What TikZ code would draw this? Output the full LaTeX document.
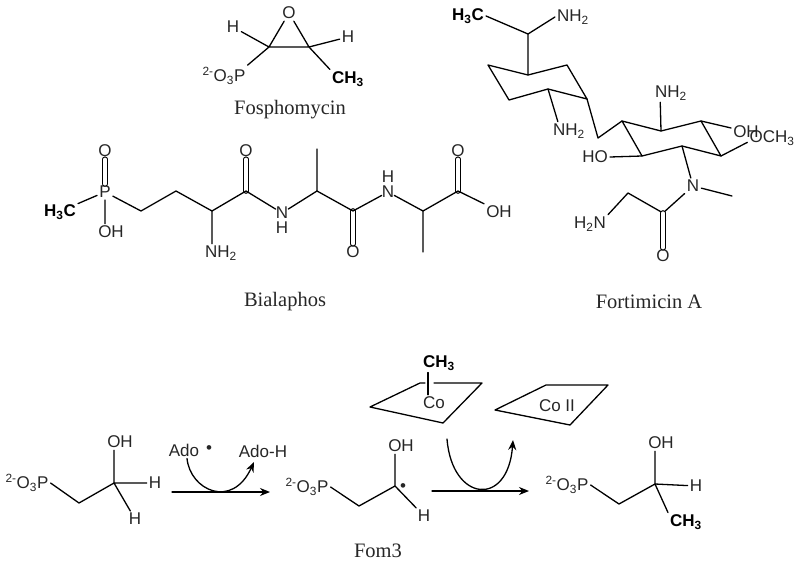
\documentclass[tikz,border=0pt]{standalone}
\usepackage{fontspec}
\setmainfont{Liberation Serif}
\setsansfont{Liberation Sans}
\usetikzlibrary{arrows.meta}
\tikzset{
	atom/.style={font=\sffamily\fontsize{17}{17}\selectfont, inner sep=2pt, text=black!85},
	boldatom/.style={font=\sffamily\bfseries\fontsize{17}{17}\selectfont, inner sep=2pt},
	title/.style={font=\fontsize{20.5}{20.5}\selectfont, inner sep=0pt, text=black!85},
	bond/.style={line width=1.3pt},
	dblbond/.style={line width=1.2pt, double distance=3.2pt},
	rxn/.style={line width=1.3pt, -{Stealth[length=10pt,width=8pt]}}
}
\newcommand{\phosgroup}{\textsuperscript{2-}O\textsubscript{3}P}
\begin{document}
\begin{tikzpicture}[x=1pt, y=-1pt, line join=round, line cap=round, >=stealth]
	\useasboundingbox (0,0) rectangle (800,564);
	% Fosphomycin
	\path
	(269,47) coordinate (fa)
	(309,47) coordinate (fb)
	;
	\node[atom] (fO) at (289,13) {O};
	\node[atom] (fH) at (233,27) {H};
	\node[atom] (fHb) at (348,37) {H};
	\node[atom] (fP) at (224,76) {\phosgroup};
	\node[boldatom] (fMe) at (348,79) {CH\textsubscript{3}};
	\node[title] (fName) at (290,110) {Fosphomycin};
	\draw[bond] (fa)--(fb) (fa)--(fO) (fb)--(fO) (fa)--(fH) (fb)--(fHb);
	\draw[bond] (fa)--(fP.north east) (fb)--(fMe.north west);
	% Bialaphos
	\path
	(141,211) coordinate (ba)
	(176,191) coordinate (bb)
	(212,211) coordinate (bc)
	(246,191) coordinate (bd)
	(317,191) coordinate (be)
	(317,149) coordinate (bf)
	(353,211) coordinate (bg)
	(423,211) coordinate (bh)
	(423,252) coordinate (bi)
	(458,191) coordinate (bj)
	;
	\node[atom] (bP) at (105,192) {P};
	\node[atom] (bOa) at (105,151) {O};
	\node[atom] (bOH) at (111,232) {OH};
	\node[boldatom] (bMe) at (60,212) {H\textsubscript{3}C};
	\node[atom] (bN) at (221,253) {NH\textsubscript{2}};
	\node[atom] (bOb) at (246,151) {O};
	\node[atom,inner sep=0pt] (bNa) at (282,213) {N};
	\node[atom,inner sep=0pt] (bHa) at (282,228) {H};
	\node[atom] (bOc) at (353,252) {O};
	\node[atom,inner sep=0pt] (bNb) at (388,192) {N};
	\node[atom,inner sep=0pt] (bHb) at (388,177) {H};
	\node[atom] (bOd) at (458,151) {O};
	\node[atom] (bOHb) at (499,212) {OH};
	\node[title] (bName) at (285,302) {Bialaphos};
	\draw[dblbond] (bP)--(bOa) (bd)--(bOb) (bg)--(bOc) (bj)--(bOd);
	\draw[bond] (bP)--(bOH.north -| bP) (bP)--(bMe.25) (bP)--(ba)--(bb)--(bc)--(bd)--(bNa)--(be)--(bf);
	\draw[bond] (bc)--(bN.north -| bc) (be)--(bg)--(bNb)--(bh)--(bi) (bh)--(bj)--(bOHb.north west);
	% Fortimicin A
	\path
	(528,34) coordinate (ra)
	(488,65) coordinate (rb)
	(528,75) coordinate (rc)
	(567,65) coordinate (rd)
	(587,99) coordinate (re)
	(548,89) coordinate (rf)
	(509,100) coordinate (rg)
	(598,138) coordinate (rh)
	(622,121) coordinate (ri)
	(661,131) coordinate (rj)
	(701,121) coordinate (rk)
	(721,156) coordinate (rl)
	(682,146) coordinate (rm)
	(642,156) coordinate (rn)
	(663,213) coordinate (ro)
	(628,193) coordinate (rp)
	(732,196) coordinate (rq)
	;
	\node[boldatom] (rMe) at (468,16) {H\textsubscript{3}C};
	\node[atom] (rNa) at (573,17) {NH\textsubscript{2}};
	\node[atom] (rNb) at (569,131) {NH\textsubscript{2}};
	\node[atom] (rNc) at (671,93) {NH\textsubscript{2}};
	\node[atom] (rOH) at (746,132) {OH};
	\node[atom] (rOMe) at (772,138) {OCH\textsubscript{3}};
	\node[atom] (rHO) at (595,157) {HO};
	\node[atom] (rN) at (693,186) {N};
	\node[atom] (rNd) at (590,224) {H\textsubscript{2}N};
	\node[atom] (rO) at (663,256) {O};
	\node[title] (rName) at (649,302) {Fortimicin A};
	\draw[bond] (rMe.east)--(ra)--(rNa.west) (ra)--(rc);
	\draw[bond] (rb)--(rc)--(rd)--(re)--(rf)--(rg)--cycle;
	\draw[bond] (rf)--(rNb.140) (re)--(rh)--(ri);
	\draw[bond] (ri)--(rj)--(rk)--(rl)--(rm)--(rn)--cycle;
	\draw[bond] (rj)--(rNc.221) (rk)--(rOH.165) (rl)--(rOMe.190) (rn)--(rHO.east);
	\draw[bond] (rm)--(rN)--(rq) (rN)--(ro)--(rp)--(rNd.north east);
	\draw[dblbond] (ro)--(rO);
	% Fom3 pathway
	\path
	(79,503) coordinate (ma)
	(114,483) coordinate (mb)
	(359,506) coordinate (na)
	(395,486) coordinate (nb)
	(619,504) coordinate (oa)
	(655,484) coordinate (ob)
	(172,492) coordinate (ya)
	(270,492) coordinate (yb)
	(432,491) coordinate (za)
	(529,491) coordinate (zb)
	(447,439) coordinate (ca)
	(513,440) coordinate (cb)
	(254,462) coordinate (cc)
	(370,407) coordinate (pa)
	(420,383) coordinate (pb)
	(425,383) coordinate (pe)
	(434,383) coordinate (pf)
	(482,383) coordinate (pc)
	(443,423) coordinate (pd)
	(495,410) coordinate (qa)
	(546,385) coordinate (qb)
	(608,385) coordinate (qc)
	(570,425) coordinate (qd)
	;
	\node[atom] (mP) at (27,483) {\phosgroup};
	\node[atom] (mOH) at (120,442) {OH};
	\node[atom] (mHa) at (155,483) {H};
	\node[atom] (mHb) at (135,519) {H};
	\node[atom] (mAdo) at (184,450) {Ado};
	\node[atom] (mRad) at (209,450) {\textbullet};
	\node[atom] (mAdoH) at (263,451) {Ado-H};
	\node[atom] (nP) at (307,487) {\phosgroup};
	\node[atom] (nOH) at (401,446) {OH};
	\node[atom] (nRad) at (403,488) {\textbullet};
	\node[atom] (nH) at (424,516) {H};
	\node[boldatom] (cMe) at (439,363) {CH\textsubscript{3}};
	\node[atom] (cCo) at (434,403) {Co};
	\node[atom] (cCoII) at (557,406) {Co II};
	\node[atom] (oP) at (567,485) {\phosgroup};
	\node[atom] (oOH) at (661,443) {OH};
	\node[atom] (oH) at (696,486) {H};
	\node[boldatom] (oMe) at (686,522) {CH\textsubscript{3}};
	\node[title] (nName) at (378,551) {Fom3};
	\draw[bond] (mP.east)--(ma)--(mb)--(mOH.south -| mb) (mb)--(mHa) (mb)--(mHb);
	\draw[bond] (nP.east)--(na)--(nb)--(nOH.south -| nb) (nb)--(nH);
	\draw[bond] (oP.east)--(oa)--(ob)--(oOH.south -| ob) (ob)--(oH) (ob)--(oMe.north west);
	\draw[rxn] (ya)--(yb);
	\draw[rxn] (za)--(zb);
	\draw[rxn] (mAdo.south -| 187,0) .. controls (190,490) and (232,510) .. (cc);
	\draw[rxn] (ca) .. controls (452,502) and (508,508) .. (cb);
	\draw[bond] (pe)--(pb)--(pa)--(pd)--(pc)--(pf);
	\draw[bond] (cMe.south -| 428,0)--(cCo.north -| 428,0);
	\draw[bond] (qa)--(qb)--(qc)--(qd)--cycle;
\end{tikzpicture}
\end{document}
